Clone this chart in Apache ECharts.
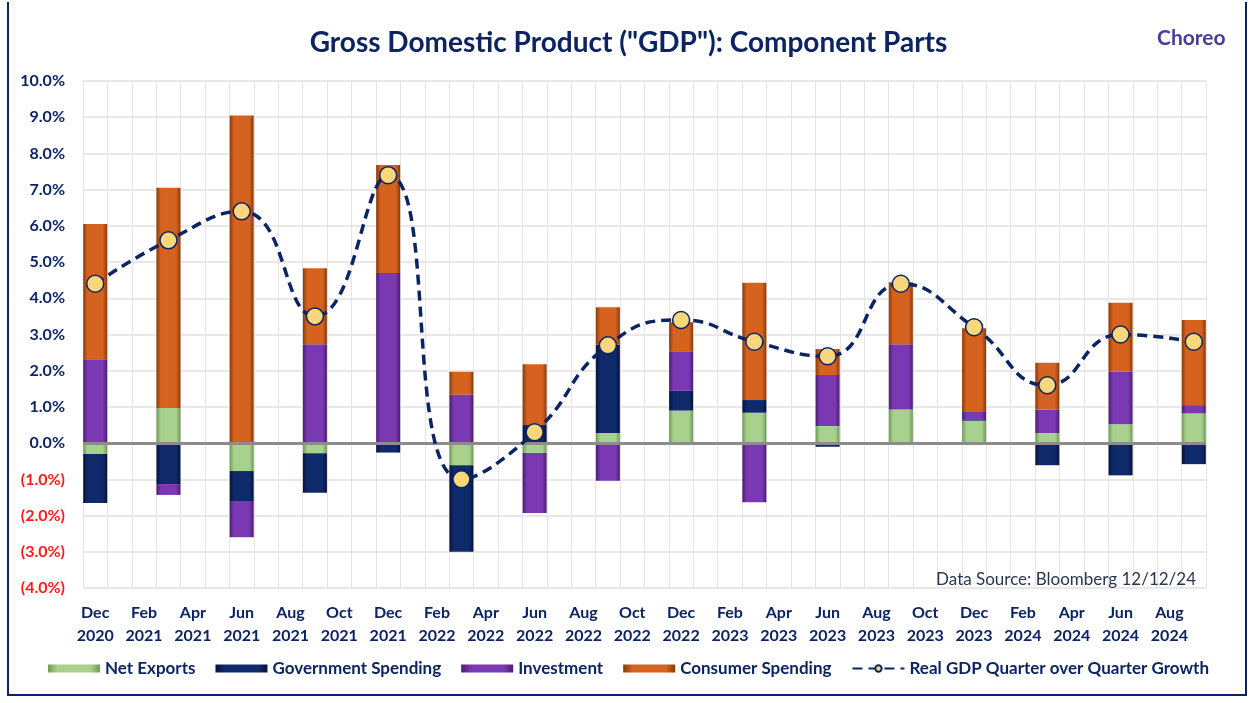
<!DOCTYPE html>
<html>
<head>
<meta charset="utf-8">
<script src="https://cdn.jsdelivr.net/npm/echarts@6/dist/echarts.min.js"></script>
<style>
  html, body { margin: 0; padding: 0; background: #fff; }
  #main { width: 1257px; height: 703px; }
  #frame {
    position: absolute; left: 7px; top: 2px; width: 1236px; height: 692px;
    border: 2px solid #0c2461; border-top: none; pointer-events: none;
  }
</style>
</head>
<body>
<div id="main"></div>
<div id="frame"></div>
<script>
// monthly slots, bars sit on quarter ends
const months = [
  "Dec 2020", "Jan 2021", "Feb 2021", "Mar 2021", "Apr 2021", "May 2021", "Jun 2021",
  "Jul 2021", "Aug 2021", "Sep 2021", "Oct 2021", "Nov 2021", "Dec 2021",
  "Jan 2022", "Feb 2022", "Mar 2022", "Apr 2022", "May 2022", "Jun 2022",
  "Jul 2022", "Aug 2022", "Sep 2022", "Oct 2022", "Nov 2022", "Dec 2022",
  "Jan 2023", "Feb 2023", "Mar 2023", "Apr 2023", "May 2023", "Jun 2023",
  "Jul 2023", "Aug 2023", "Sep 2023", "Oct 2023", "Nov 2023", "Dec 2023",
  "Jan 2024", "Feb 2024", "Mar 2024", "Apr 2024", "May 2024", "Jun 2024",
  "Jul 2024", "Aug 2024", "Sep 2024"
]
const quarters = [
  "Dec 2020", "Mar 2021", "Jun 2021", "Sep 2021", "Dec 2021", "Mar 2022", "Jun 2022", "Sep 2022",
  "Dec 2022", "Mar 2023", "Jun 2023", "Sep 2023", "Dec 2023", "Mar 2024", "Jun 2024", "Sep 2024"
]
const netExports = [-0.3, 0.97, -0.77, -0.28, 0, -0.61, -0.27, 0.28, 0.9, 0.84, 0.47, 0.93, 0.62, 0.28, 0.52, 0.82]
const government = [-1.35, -1.13, -0.83, -1.09, -0.26, -2.39, 0.5, 2.44, 0.55, 0.35, -0.1, -0.05, 0.04, -0.61, -0.89, -0.58]
const investment = [2.32, -0.3, -1.0, 2.73, 4.7, 1.34, -1.66, -1.04, 1.09, -1.63, 1.41, 1.8, 0.2, 0.65, 1.45, 0.23]
const consumer = [3.73, 6.08, 9.05, 2.1, 2.98, 0.63, 1.68, 1.03, 0.8, 3.24, 0.72, 1.71, 2.31, 1.29, 1.91, 2.35]
const realGdp = [4.4, 5.6, 6.4, 3.5, 7.4, -1.0, 0.3, 2.7, 3.4, 2.8, 2.4, 4.4, 3.2, 1.6, 3.0, 2.8]

const yTicks = { min: -4, max: 10, step: 1 }

// spread quarterly values onto the monthly axis
const toMonthly = (vals) => {
  const out = months.map(() => null)
  quarters.forEach((q, i) => { out[months.indexOf(q)] = vals[i] })
  return out
}

const bevel = (edge, mid) => ({
  type: "linear", x: 0, y: 0, x2: 1, y2: 0,
  colorStops: [
    { offset: 0, color: edge },
    { offset: 0.18, color: mid },
    { offset: 0.82, color: mid },
    { offset: 1, color: edge }
  ]
})

const navy = "#0c2461"
const font = "Lato"

const barSeries = (name, vals, edge, mid) => ({
  name,
  type: "bar",
  stack: "gdp",
  barWidth: 24,
  data: toMonthly(vals),
  itemStyle: { color: bevel(edge, mid) }
})

const chart = echarts.init(document.getElementById("main"))

const option = {
  animation: false,
  title: [
    {
      text: 'Gross Domestic Product ("GDP"): Component Parts',
      left: "center",
      top: 24,
      textStyle: { fontFamily: font, fontSize: 28, fontWeight: "bold", color: navy }
    },
    {
      text: "Choreo",
      left: 1152,
      top: 23,
      textStyle: { fontFamily: font, fontSize: 21, fontWeight: "bold", color: "#4a3d9a" }
    },
    {
      text: "Data Source: Bloomberg 12/12/24",
      right: 56,
      top: 566,
      textStyle: { fontFamily: font, fontSize: 17, fontWeight: "normal", color: "#2b3550" }
    }
  ],
  legend: {
    bottom: 21,
    left: "center",
    itemWidth: 52,
    itemHeight: 8,
    itemGap: 20,
    textStyle: { fontFamily: font, fontSize: 17, fontWeight: "bold", color: navy },
    data: [
      { name: "Net Exports", icon: "rect" },
      { name: "Government Spending", icon: "rect" },
      { name: "Investment", icon: "rect" },
      { name: "Consumer Spending", icon: "rect" },
      { name: "Real GDP Quarter over Quarter Growth" }
    ]
  },
  grid: { left: 83, right: 51, top: 81, bottom: 115 },
  xAxis: {
    type: "category",
    data: months,
    axisLine: { show: false },
    axisTick: { show: false },
    splitLine: { show: true, interval: 0, lineStyle: { color: "#e4e4e4", width: 1 } },
    axisLabel: {
      interval: 1,
      margin: 13,
      fontFamily: font,
      fontSize: 16,
      fontWeight: "bold",
      color: navy,
      lineHeight: 23,
      formatter: (v) => v.replace(" ", "\n")
    }
  },
  yAxis: {
    type: "value",
    min: yTicks.min,
    max: yTicks.max,
    interval: yTicks.step,
    axisLine: { show: false },
    axisTick: { show: false },
    splitLine: { lineStyle: { color: "#e0e0e0", width: 1.5 } },
    axisLabel: {
      margin: 18,
      formatter: (v) => v < 0 ? "{neg|(" + Math.abs(v).toFixed(1) + "%)}" : "{pos|" + v.toFixed(1) + "%}",
      rich: {
        pos: { fontFamily: font, fontSize: 16, fontWeight: "bold", color: navy },
        neg: { fontFamily: font, fontSize: 16, fontWeight: "bold", color: "#ff1a1a" }
      }
    }
  },
  series: [
    barSeries("Net Exports", netExports, "#6f9a55", "#a9d18e"),
    barSeries("Government Spending", government, "#06123a", "#0f2a6b"),
    barSeries("Investment", investment, "#4a1c72", "#7a38b2"),
    {
      ...barSeries("Consumer Spending", consumer, "#8a3a0c", "#d6621f"),
      markLine: {
        silent: true,
        symbol: "none",
        label: { show: false },
        lineStyle: { color: "#8c8c8c", width: 3, type: "solid" },
        data: [{ yAxis: 0 }]
      }
    },
    {
      name: "Real GDP Quarter over Quarter Growth",
      type: "line",
      z: 10,
      data: toMonthly(realGdp),
      connectNulls: true,
      showAllSymbol: true,
      smooth: 0.5,
      symbol: "circle",
      symbolSize: 17,
      lineStyle: { color: navy, width: 3.5, type: [10, 6] },
      itemStyle: { color: "#f9d77a", borderColor: navy, borderWidth: 1.5 }
    }
  ]
}

chart.setOption(option)
</script>
</body>
</html>
